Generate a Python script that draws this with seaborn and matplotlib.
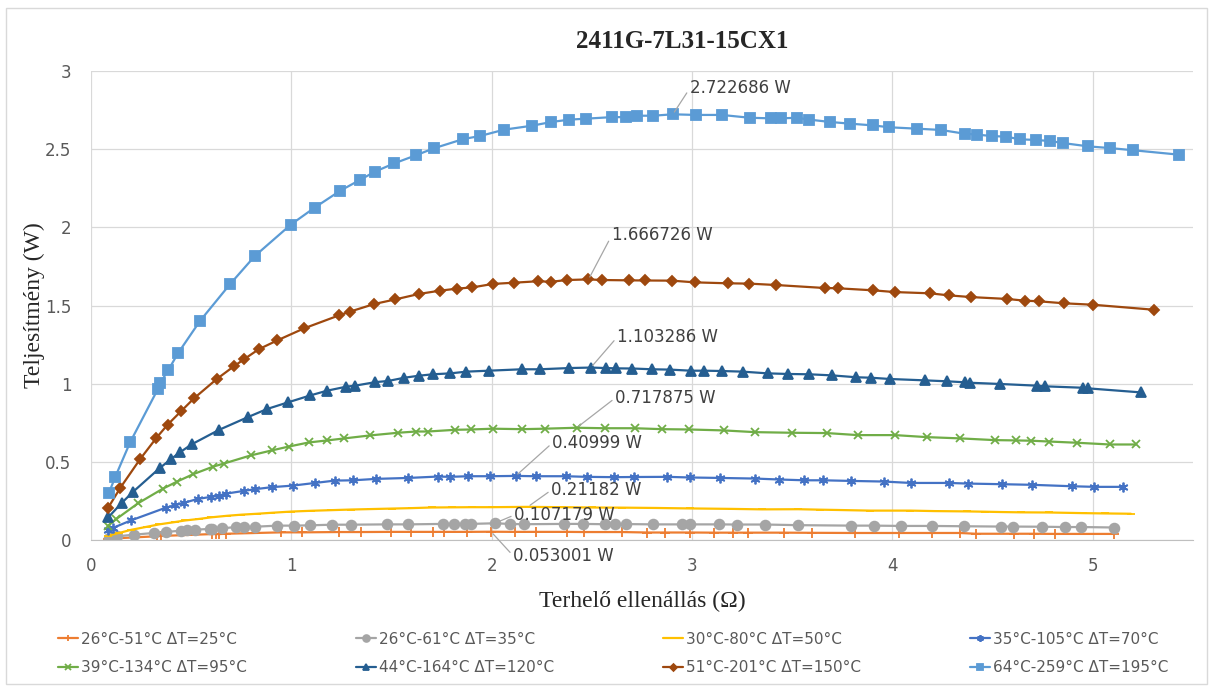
import matplotlib
matplotlib.use("Agg")
import matplotlib.pyplot as plt
import seaborn as sns
from matplotlib.patches import Rectangle

# load resistance (Ohm) vs power (W), one series per temperature range
x_25 = [0.086, 0.128, 0.22, 0.33, 0.35, 0.605, 0.625, 0.64, 0.672, 0.95, 1.055, 1.236, 1.35, 1.495,
        1.596, 1.705, 1.762, 1.877, 1.997, 2.116, 2.221, 2.374, 2.46, 2.65, 2.777, 2.865, 2.992, 3.109,
        3.206, 3.279, 3.460, 3.597, 3.811, 4.033, 4.197, 4.337, 4.415, 4.607, 4.708, 4.812, 5.107]
y_25 = [0.005, 0.011, 0.017, 0.024, 0.026, 0.038, 0.038, 0.038, 0.040, 0.049, 0.049, 0.051, 0.051, 0.052,
        0.052, 0.052, 0.052, 0.052, 0.053, 0.052, 0.052, 0.052, 0.051, 0.051, 0.048, 0.048, 0.048, 0.047,
        0.047, 0.047, 0.047, 0.046, 0.045, 0.045, 0.045, 0.045, 0.040, 0.040, 0.040, 0.039, 0.039]

x_35 = [0.090, 0.132, 0.214, 0.313, 0.372, 0.449, 0.478, 0.521, 0.592, 0.602, 0.655, 0.726, 0.762, 0.819,
        0.930, 1.014, 1.095, 1.203, 1.297, 1.475, 1.580, 1.757, 1.813, 1.866, 1.895, 2.015, 2.090, 2.162,
        2.363, 2.458, 2.564, 2.615, 2.669, 2.805, 2.951, 2.990, 3.135, 3.224, 3.365, 3.529, 3.794, 3.907,
        4.042, 4.196, 4.356, 4.541, 4.604, 4.747, 4.860, 4.943, 5.107]
y_35 = [0.015, 0.024, 0.034, 0.045, 0.051, 0.060, 0.062, 0.066, 0.071, 0.073, 0.075, 0.083, 0.083, 0.085,
        0.092, 0.092, 0.094, 0.098, 0.098, 0.100, 0.100, 0.103, 0.103, 0.103, 0.103, 0.107, 0.103, 0.101,
        0.103, 0.103, 0.101, 0.102, 0.102, 0.100, 0.100, 0.100, 0.100, 0.099, 0.099, 0.095, 0.092, 0.092,
        0.090, 0.090, 0.088, 0.086, 0.086, 0.085, 0.083, 0.083, 0.080]

x_50 = [0.084, 0.14, 0.2, 0.28, 0.34, 0.42, 0.47, 0.54, 0.6, 0.68, 0.75, 0.83, 0.9, 1.0, 1.1, 1.2, 1.3,
        1.4, 1.5, 1.6, 1.7, 1.8, 1.9, 2.0, 2.18, 2.35, 2.5, 2.65, 2.82, 2.99, 3.2, 3.35, 3.53, 3.64, 3.73,
        3.89, 4.09, 4.21, 4.37, 4.46, 4.54, 4.64, 4.78, 4.95, 5.06, 5.19]
y_50 = [0.028, 0.045, 0.065, 0.085, 0.100, 0.115, 0.125, 0.135, 0.145, 0.155, 0.162, 0.168, 0.174, 0.182,
        0.187, 0.191, 0.195, 0.198, 0.201, 0.204, 0.208, 0.209, 0.210, 0.210, 0.212, 0.210, 0.208, 0.207,
        0.205, 0.202, 0.199, 0.196, 0.197, 0.194, 0.192, 0.188, 0.188, 0.185, 0.183, 0.181, 0.179, 0.177,
        0.176, 0.172, 0.170, 0.168]

x_70 = [0.084, 0.109, 0.201, 0.374, 0.420, 0.462, 0.533, 0.600, 0.640, 0.676, 0.762, 0.819, 0.902, 1.007,
        1.118, 1.217, 1.309, 1.423, 1.584, 1.733, 1.790, 1.882, 1.990, 2.120, 2.220, 2.369, 2.474, 2.610,
        2.712, 2.877, 2.988, 3.140, 3.316, 3.435, 3.560, 3.652, 3.792, 3.956, 4.091, 4.280, 4.378, 4.547,
        4.698, 4.895, 5.008, 5.149]
y_70 = [0.062, 0.077, 0.126, 0.207, 0.222, 0.237, 0.263, 0.276, 0.284, 0.297, 0.314, 0.325, 0.338, 0.348,
        0.365, 0.380, 0.382, 0.391, 0.397, 0.406, 0.404, 0.408, 0.408, 0.410, 0.408, 0.408, 0.404, 0.402,
        0.403, 0.404, 0.400, 0.397, 0.393, 0.387, 0.382, 0.382, 0.378, 0.374, 0.365, 0.365, 0.361, 0.357,
        0.353, 0.344, 0.340, 0.340]

x_95 = [0.084, 0.124, 0.235, 0.357, 0.430, 0.510, 0.611, 0.663, 0.797, 0.902, 0.988, 1.087, 1.179, 1.265,
        1.393, 1.532, 1.622, 1.681, 1.819, 1.897, 2.006, 2.153, 2.264, 2.424, 2.563, 2.713, 2.850, 2.986,
        3.158, 3.314, 3.500, 3.673, 3.827, 4.013, 4.173, 4.339, 4.510, 4.618, 4.694, 4.781, 4.922, 5.086,
        5.215]
y_95 = [0.090, 0.132, 0.235, 0.327, 0.374, 0.421, 0.470, 0.489, 0.541, 0.573, 0.598, 0.624, 0.637, 0.650,
        0.669, 0.686, 0.694, 0.694, 0.705, 0.707, 0.712, 0.709, 0.712, 0.718, 0.715, 0.715, 0.709, 0.707,
        0.701, 0.690, 0.686, 0.684, 0.671, 0.671, 0.658, 0.650, 0.639, 0.637, 0.635, 0.630, 0.622, 0.611,
        0.611]

x_120 = [0.086, 0.155, 0.208, 0.342, 0.399, 0.443, 0.504, 0.640, 0.783, 0.879, 0.982, 1.095, 1.178, 1.275,
         1.317, 1.420, 1.482, 1.564, 1.637, 1.706, 1.794, 1.874, 1.985, 2.149, 2.239, 2.388, 2.495, 2.570,
         2.621, 2.702, 2.802, 2.889, 2.994, 3.062, 3.148, 3.252, 3.377, 3.480, 3.585, 3.699, 3.820, 3.894,
         3.987, 4.165, 4.274, 4.360, 4.385, 4.539, 4.723, 4.762, 4.949, 4.977, 5.242]
y_120 = [0.145, 0.239, 0.306, 0.459, 0.517, 0.560, 0.613, 0.705, 0.786, 0.838, 0.880, 0.925, 0.955, 0.981,
         0.987, 1.010, 1.017, 1.038, 1.051, 1.060, 1.066, 1.077, 1.083, 1.092, 1.092, 1.100, 1.103, 1.100,
         1.098, 1.097, 1.092, 1.090, 1.083, 1.083, 1.081, 1.077, 1.066, 1.062, 1.060, 1.053, 1.041, 1.038,
         1.030, 1.021, 1.015, 1.009, 1.006, 0.998, 0.987, 0.983, 0.974, 0.970, 0.944]

x_150 = [0.084, 0.147, 0.245, 0.327, 0.382, 0.449, 0.514, 0.628, 0.713, 0.766, 0.837, 0.930, 1.064, 1.238,
         1.293, 1.415, 1.519, 1.637, 1.742, 1.828, 1.904, 2.006, 2.113, 2.229, 2.296, 2.376, 2.483, 2.552,
         2.684, 2.766, 2.900, 3.014, 3.180, 3.285, 3.420, 3.661, 3.730, 3.905, 4.011, 4.187, 4.280, 4.391,
         4.571, 4.660, 4.729, 4.858, 5.000, 5.304]
y_150 = [0.203, 0.335, 0.517, 0.654, 0.737, 0.823, 0.906, 1.030, 1.111, 1.158, 1.220, 1.277, 1.354, 1.437,
         1.461, 1.510, 1.539, 1.574, 1.595, 1.608, 1.616, 1.638, 1.646, 1.655, 1.652, 1.663, 1.667, 1.663,
         1.661, 1.660, 1.659, 1.648, 1.642, 1.640, 1.631, 1.612, 1.610, 1.597, 1.586, 1.578, 1.565, 1.554,
         1.542, 1.531, 1.527, 1.514, 1.505, 1.473]

x_195 = [0.09, 0.122, 0.195, 0.334, 0.346, 0.386, 0.434, 0.544, 0.693, 0.818, 0.997, 1.116, 1.245, 1.345,
         1.417, 1.513, 1.622, 1.710, 1.859, 1.941, 2.063, 2.201, 2.298, 2.388, 2.470, 2.600, 2.670, 2.725,
         2.806, 2.904, 3.018, 3.148, 3.287, 3.396, 3.443, 3.523, 3.585, 3.689, 3.790, 3.903, 3.985, 4.124,
         4.241, 4.360, 4.424, 4.495, 4.567, 4.637, 4.715, 4.787, 4.852, 4.977, 5.086, 5.203, 5.429]
y_195 = [0.303, 0.406, 0.624, 0.966, 1.005, 1.087, 1.194, 1.401, 1.635, 1.817, 2.017, 2.126, 2.235, 2.305,
         2.356, 2.409, 2.461, 2.505, 2.565, 2.584, 2.625, 2.650, 2.674, 2.689, 2.695, 2.705, 2.705, 2.714,
         2.714, 2.723, 2.719, 2.719, 2.701, 2.697, 2.697, 2.701, 2.689, 2.674, 2.663, 2.652, 2.640, 2.631,
         2.623, 2.599, 2.593, 2.584, 2.580, 2.563, 2.559, 2.552, 2.539, 2.518, 2.507, 2.493, 2.465]

labels = ["26°C-51°C ΔT=25°C", "26°C-61°C ΔT=35°C", "30°C-80°C ΔT=50°C", "35°C-105°C ΔT=70°C",
          "39°C-134°C ΔT=95°C", "44°C-164°C ΔT=120°C", "51°C-201°C ΔT=150°C", "64°C-259°C ΔT=195°C"]
peak_x = [1.997, 2.015, 2.18, 2.12, 2.424, 2.495, 2.483, 2.904]
peak_w = [0.053001, 0.107179, 0.21182, 0.40999, 0.717875, 1.103286, 1.666726, 2.722686]

xs = [x_25, x_35, x_50, x_70, x_95, x_120, x_150, x_195]
ys = [y_25, y_35, y_50, y_70, y_95, y_120, y_150, y_195]
colors = ["#ED7D31", "#A5A5A5", "#FFC000", "#4472C4", "#70AD47", "#255E91", "#9E480E", "#5B9BD5"]
markers = ["+", "o", "_", (6, 2, 0), "x", "^", "D", "s"]
msizes = [7, 7, 6, 7, 6, 7, 5, 7]

# where the data labels sit (data coords)
label_pos = [(2.108, -0.102), (2.113, 0.16), (2.298, 0.32), (2.303, 0.621),
             (2.617, 0.909), (2.627, 1.299), (2.60, 1.951), (2.99, 2.892)]

sns.set_style("white")
plt.rcParams["font.family"] = ["DejaVu Sans"]

fig = plt.figure(figsize=(12.13, 6.88), dpi=100)
ax = fig.add_axes([0.075, 0.2151, 0.9085, 0.6817])

for i in range(8):
    sns.lineplot(x=xs[i], y=ys[i], ax=ax, color=colors[i], marker=markers[i], markersize=msizes[i],
                 markeredgecolor=colors[i], markeredgewidth=1.3, linewidth=1.6,
                 estimator=None, sort=False, label=labels[i])

for i in range(8):
    ax.annotate(f"{peak_w[i]} W", xy=(peak_x[i], peak_w[i]), xytext=label_pos[i],
                ha="left", va="center", fontsize=12, color="#404040", annotation_clip=False,
                arrowprops=dict(arrowstyle="-", color="#a6a6a6", lw=0.9, shrinkA=0, shrinkB=2,
                                relpos=(0, 0.5)))

ax.set_xlim(0, 5.5)
ax.set_ylim(0, 3)
ax.set_xticks([0, 1, 2, 3, 4, 5])
ax.set_yticks([0, 0.5, 1, 1.5, 2, 2.5, 3])
ax.set_yticklabels(["0", "0.5", "1", "1.5", "2", "2.5", "3"])
ax.grid(True, color="#d9d9d9", linewidth=0.9)
ax.set_axisbelow(True)
for side in ["top", "right", "left"]:
    ax.spines[side].set_visible(False)
ax.spines["bottom"].set_color("#bfbfbf")
ax.tick_params(length=0, labelsize=12, labelcolor="#595959")
ax.tick_params(axis="x", pad=12)
ax.tick_params(axis="y", pad=14)

ax.set_xlabel("Terhelő ellenállás (Ω)", family="Liberation Serif", fontsize=17, labelpad=12)
ax.set_ylabel("Teljesítmény (W)", family="Liberation Serif", fontsize=17, va="center")
ax.yaxis.set_label_coords(-0.051, 0.5)
fig.text(682 / 1213, 1 - 42 / 688, "2411G-7L31-15CX1", family="Liberation Serif",
         fontweight="bold", fontsize=18, ha="center", va="center")

h, l = ax.get_legend_handles_labels()
order = [0, 4, 1, 5, 2, 6, 3, 7]
ax.legend([h[k] for k in order], [l[k] for k in order], ncol=4, loc="center", mode="expand",
          bbox_to_anchor=(58 / 1213, 0.0, (1168 - 58) / 1213, 0.1), bbox_transform=fig.transFigure,
          frameon=False, fontsize=11, labelcolor="#595959", handlelength=1.3, handletextpad=0.2,
          borderaxespad=0, borderpad=0, labelspacing=0.9, markerscale=0.7)

fig.patches.append(Rectangle((6 / 1213, 4 / 688), 1 - 12 / 1213, 1 - 12 / 688, transform=fig.transFigure,
                             fill=False, edgecolor="#d9d9d9", linewidth=1))

fig.savefig("out.png", dpi=100)
